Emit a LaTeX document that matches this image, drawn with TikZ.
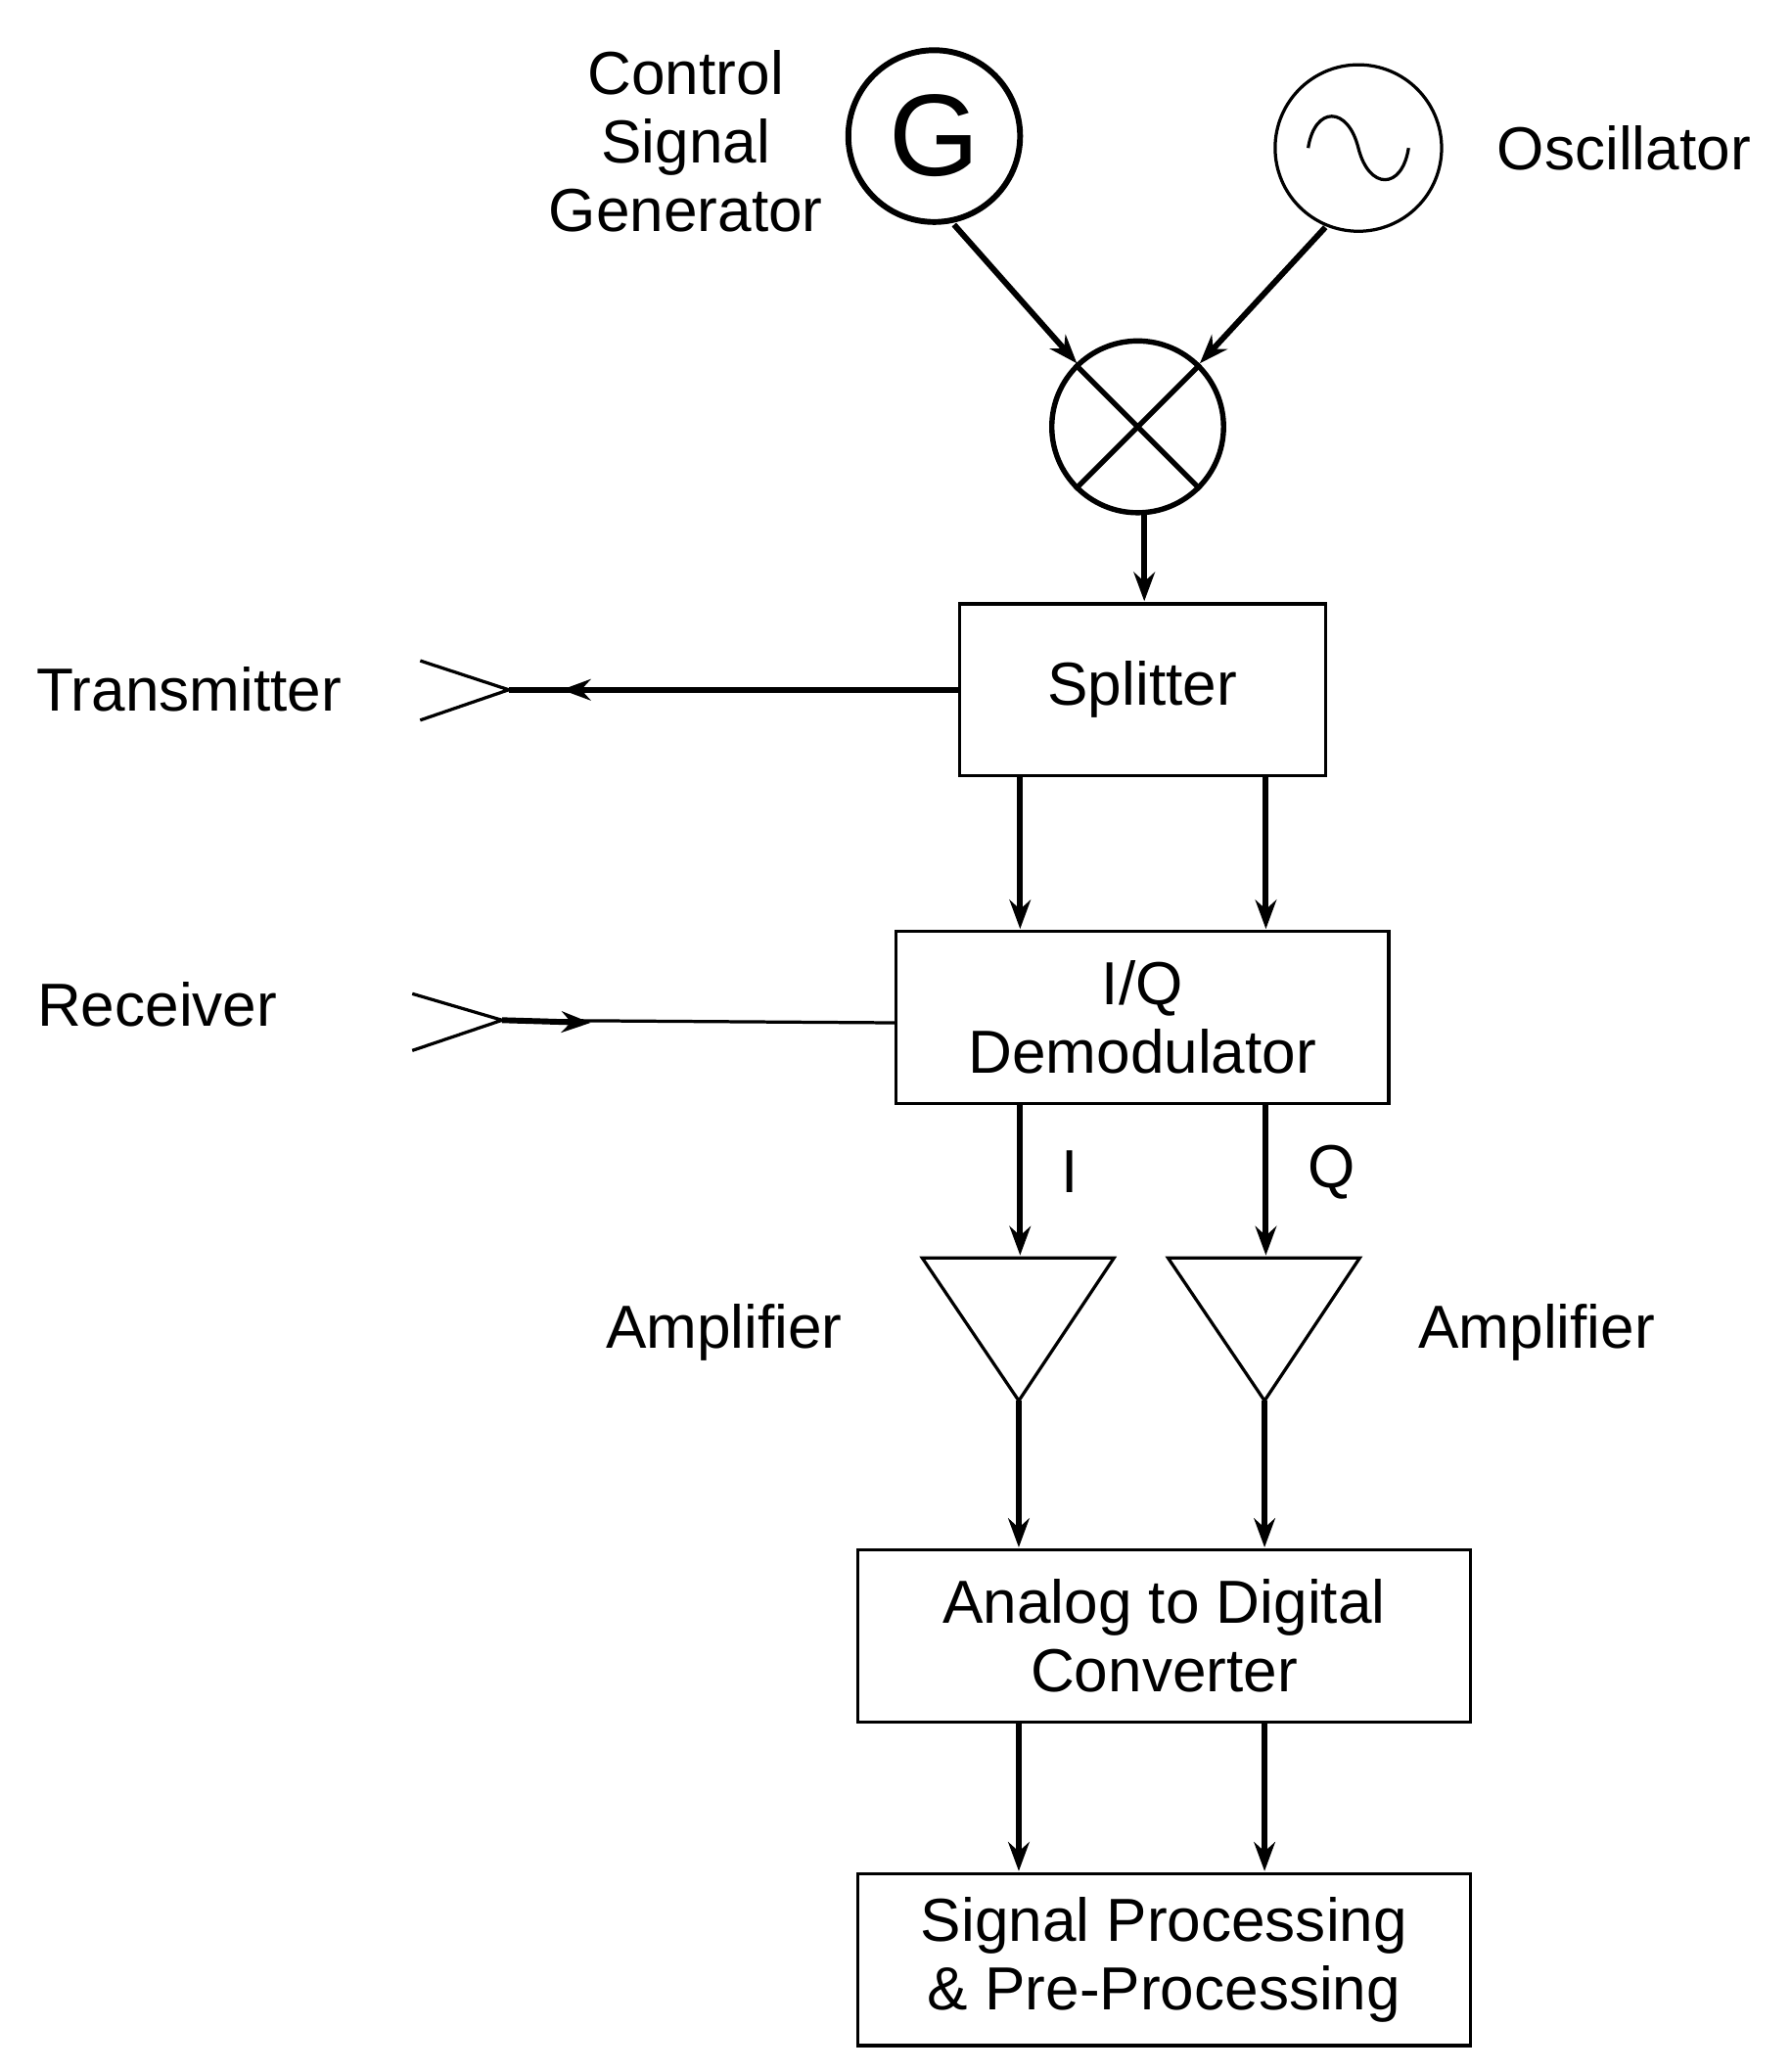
\documentclass[tikz,border=0pt]{standalone}
\usepackage{fontspec}
\setmainfont{Liberation Sans}
\usetikzlibrary{arrows.meta}
\begin{document}
\begin{tikzpicture}[x=0.5pt,y=-0.5pt,
  every node/.style={font=\fontsize{23}{28}\selectfont},
  box/.style={draw,line width=1.2pt,minimum width=0pt},
  conn/.style={line width=2.2pt,-{Stealth[length=11pt,width=8pt]}},
  thin/.style={line width=1.2pt}]
\useasboundingbox (0,0) rectangle (1355,1568);
% sources
\node[circle,draw,line width=2.2pt,minimum size=65pt,inner sep=0] (G) at (707,103) {};
\node[font=\fontsize{44}{44}\selectfont] at (707,103) {G};
\node[circle,draw,thin,minimum size=63pt,inner sep=0] (O) at (1028,112) {};
\draw[thin] (990,112) .. controls (995,80) and (1020,80) .. (1028,112) .. controls (1036,144) and (1061,144) .. (1066,112);
\node[circle,draw,line width=2pt,minimum size=65pt,inner sep=0] (M) at (861,323) {};
\draw[line width=2pt] (M.north west) -- (M.south east) (M.north east) -- (M.south west);
\node[align=center] (gl) at (519,107) {Control\\[-2pt]Signal\\[-2pt]Generator};
\node (ol) at (1229,112) {Oscillator};
\coordinate (g1) at (722,170); \coordinate (g2) at (815,275);
\coordinate (o1) at (1003,172); \coordinate (o2) at (908,275);
\draw[conn] (g1) -- (g2);
\draw[conn] (o1) -- (o2);
% splitter
\node[box,minimum width=138.5pt,minimum height=65pt] (S) at (864.5,522) {Splitter};
\draw[conn] (866,388) -- (866,455);
\coordinate (ta) at (385,522);
\draw[thin] (318,500) -- (ta) -- (318,545);
\draw[line width=2.2pt] (S.west) -- (ta);
\draw[line width=2.2pt,-{Stealth[length=11pt,width=8pt]}] (S.west) -- (425,522);
\node (tl) at (143,522) {Transmitter};
% IQ
\node[box,minimum width=186.5pt,minimum height=65pt,align=center] (IQ) at (864.5,770) {I/Q\\[-2pt]Demodulator};
\draw[conn] (772,587) -- (772,703);
\draw[conn] (958,587) -- (958,703);
\coordinate (ra) at (380,772);
\draw[thin] (312,752) -- (ra) -- (312,795);
\draw[thin] (IQ.west |- 0,774) -- (ra);
\draw[line width=2.2pt,-{Stealth[length=11pt,width=8pt]}] (ra) -- (447,774);
\node (rl) at (119,760) {Receiver};
% I Q
\draw[conn] (772,835) -- (772,950);
\draw[conn] (958,835) -- (958,950);
\node at (810,887) {I};
\node at (1008,887) {Q};
% amplifiers
\draw[thin] (698,952) -- (843,952) -- (771,1060) -- cycle;
\draw[thin] (884,952) -- (1029,952) -- (957,1060) -- cycle;
\node at (548,1008) {Amplifier};
\node at (1163,1008) {Amplifier};
\draw[conn] (771,1060) -- (771,1171);
\draw[conn] (957,1060) -- (957,1171);
% ADC
\node[box,minimum width=232pt,minimum height=65pt,align=center] (ADC) at (881,1238) {Analog to Digital\\[-2pt]Converter};
\draw[conn] (771,1303) -- (771,1416);
\draw[conn] (957,1303) -- (957,1416);
\node[box,minimum width=232pt,minimum height=65pt,align=center] (SP) at (881,1483) {Signal Processing\\[-2pt]\& Pre-Processing};
\end{tikzpicture}
\end{document}
